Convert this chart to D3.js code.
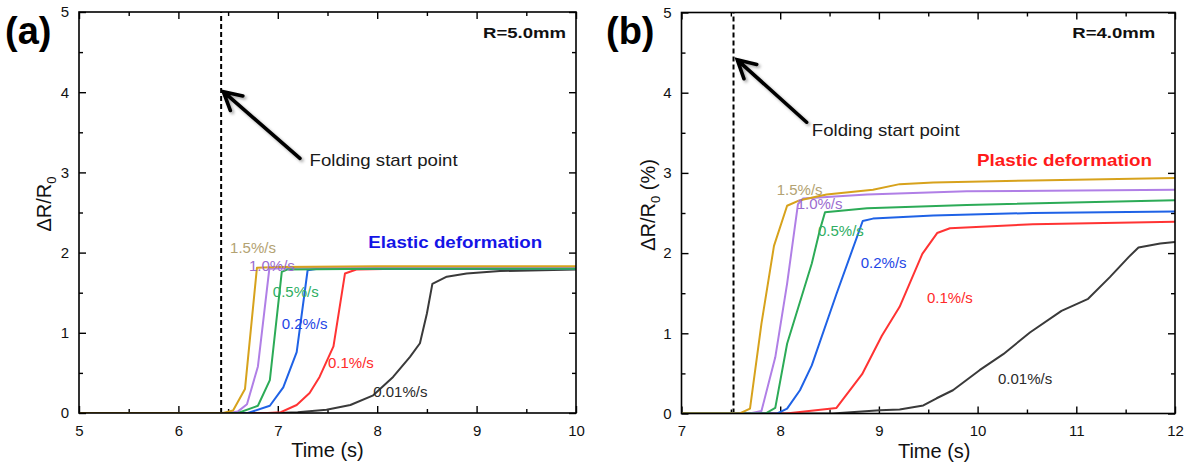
<!DOCTYPE html>
<html>
<head>
<meta charset="utf-8">
<script src="https://cdn.jsdelivr.net/npm/d3@7"></script>
<style>
  html, body { margin: 0; padding: 0; background: #fff; }
  svg { display: block; font-family: Arial, "Liberation Sans", sans-serif; }
</style>
</head>
<body>
<svg id="chart" width="1194" height="470"></svg>
<script>
// Rate labels, one per loading rate
const rateLabels = ["0.01%/s", "0.1%/s", "0.2%/s", "0.5%/s", "1.0%/s", "1.5%/s"];

// Panel (a): R = 5.0 mm, [time (s), ΔR/R0]
const a001 = [[5,0],[7.0,0],[7.2,0.01],[7.49,0.04],[7.73,0.10],[7.96,0.22],[8.16,0.45],[8.33,0.70],[8.43,0.87],[8.50,1.24],[8.555,1.61],[8.70,1.70],[8.90,1.74],[9.235,1.77],[10,1.79]];
const a01  = [[5,0],[6.9,0],[7.03,0.01],[7.19,0.10],[7.32,0.25],[7.42,0.45],[7.56,0.83],[7.676,1.74],[7.79,1.79],[8.2,1.80],[10,1.80]];
const a02  = [[5,0],[6.7,0],[6.92,0.09],[7.055,0.32],[7.19,0.76],[7.30,1.78],[7.4,1.80],[10,1.80]];
const a05  = [[5,0],[6.6,0],[6.8,0.09],[6.92,0.41],[7.04,1.76],[7.1,1.79],[8,1.80],[10,1.80]];
const a10  = [[5,0],[6.5,0],[6.6,0.02],[6.69,0.11],[6.80,0.58],[6.915,1.80],[7.2,1.81],[10,1.81]];
const a15  = [[5,0],[6.45,0],[6.55,0.03],[6.67,0.30],[6.79,1.81],[7,1.82],[8,1.83],[10,1.83]];

// Panel (b): R = 4.0 mm, [time (s), ΔR/R0 (%)]
const b001 = [[7,0],[8.53,0],[9.01,0.04],[9.21,0.05],[9.45,0.10],[9.585,0.19],[9.75,0.29],[10.02,0.54],[10.26,0.74],[10.53,1.01],[10.85,1.28],[11.12,1.43],[11.34,1.70],[11.53,1.95],[11.63,2.07],[11.85,2.12],[12,2.14]];
const b01  = [[7,0],[8.06,0],[8.57,0.07],[8.83,0.49],[9.03,0.97],[9.21,1.33],[9.44,1.99],[9.59,2.25],[9.72,2.31],[10.56,2.36],[12,2.39]];
const b02  = [[7,0],[7.97,0],[8.07,0.06],[8.20,0.29],[8.32,0.60],[8.57,1.49],[8.836,2.40],[8.94,2.43],[9.55,2.47],[10.56,2.50],[12,2.52]];
const b05  = [[7,0],[7.85,0],[7.95,0.07],[8.07,0.87],[8.32,1.87],[8.40,2.28],[8.454,2.51],[8.88,2.56],[9.89,2.60],[12,2.66]];
const b10  = [[7,0],[7.69,0],[7.81,0.03],[7.95,0.70],[8.07,1.62],[8.18,2.61],[8.23,2.68],[8.88,2.73],[9.89,2.77],[12,2.79]];
const b15  = [[7,0],[7.59,0],[7.694,0.06],[7.81,1.12],[7.937,2.09],[8.07,2.59],[8.20,2.66],[8.47,2.73],[8.94,2.79],[9.21,2.86],[9.55,2.88],[10.56,2.905],[12,2.935]];

// Folding start times
const foldStart = [6.43, 7.527];

// Axis ticks
const xTicksA = [5, 6, 7, 8, 9, 10];
const xTicksB = [7, 8, 9, 10, 11, 12];
const yTicks  = [0, 1, 2, 3, 4, 5];

const lineColors  = ["#3a3a3a", "#ff3333", "#1f62e6", "#2cab57", "#b07fe6", "#d7a21c"];
const labelColors = ["#2a2a2a", "#ff2a2a", "#1e46e6", "#2fae63", "#9b6cd0", "#b3a272"];

const svg = d3.select("#chart");
const defs = svg.append("defs");
defs.append("filter").attr("id", "arrowShadow")
  .attr("x", "-20%").attr("y", "-20%").attr("width", "150%").attr("height", "150%")
  .append("feDropShadow")
  .attr("dx", 2).attr("dy", 2).attr("stdDeviation", 1.6)
  .attr("flood-color", "#000").attr("flood-opacity", 0.35);

function drawPanel(cfg) {
  const x = d3.scaleLinear().domain(cfg.xDomain).range([cfg.left, cfg.right]);
  const y = d3.scaleLinear().domain([0, 5]).range([cfg.bottom, cfg.top]);
  const g = svg.append("g");

  const clipId = "clip-" + cfg.id;
  defs.append("clipPath").attr("id", clipId).append("rect")
    .attr("x", cfg.left).attr("y", cfg.top)
    .attr("width", cfg.right - cfg.left).attr("height", cfg.bottom - cfg.top);

  // minor ticks every 0.5
  const xMinor = d3.range(cfg.xDomain[0], cfg.xDomain[1] + 0.01, 0.5).filter(v => v % 1 !== 0);
  const yMinor = d3.range(0.5, 5, 1);

  const styleAxis = sel => {
    sel.select(".domain").remove();
    sel.selectAll(".tick line").attr("stroke", "#000").attr("stroke-width", 1.4);
    sel.selectAll(".tick text").attr("fill", "#111").attr("font-size", 15)
      .attr("font-family", 'Arial, "Liberation Sans", sans-serif');
  };

  // bottom
  g.append("g").attr("transform", `translate(0,${cfg.bottom})`)
    .call(d3.axisBottom(x).tickValues(cfg.xTicks).tickFormat(d3.format("d")).tickSizeInner(-7).tickSizeOuter(0).tickPadding(12))
    .call(styleAxis);
  g.append("g").attr("transform", `translate(0,${cfg.bottom})`)
    .call(d3.axisBottom(x).tickValues(xMinor).tickFormat("").tickSizeInner(-4).tickSizeOuter(0))
    .call(styleAxis);
  // top (mirror)
  g.append("g").attr("transform", `translate(0,${cfg.top})`)
    .call(d3.axisTop(x).tickValues(cfg.xTicks).tickFormat("").tickSizeInner(-7).tickSizeOuter(0))
    .call(styleAxis);
  g.append("g").attr("transform", `translate(0,${cfg.top})`)
    .call(d3.axisTop(x).tickValues(xMinor).tickFormat("").tickSizeInner(-4).tickSizeOuter(0))
    .call(styleAxis);
  // left
  g.append("g").attr("transform", `translate(${cfg.left},0)`)
    .call(d3.axisLeft(y).tickValues(yTicks).tickFormat(d3.format("d")).tickSizeInner(-7).tickSizeOuter(0).tickPadding(10))
    .call(styleAxis);
  g.append("g").attr("transform", `translate(${cfg.left},0)`)
    .call(d3.axisLeft(y).tickValues(yMinor).tickFormat("").tickSizeInner(-4).tickSizeOuter(0))
    .call(styleAxis);
  // right (mirror)
  g.append("g").attr("transform", `translate(${cfg.right},0)`)
    .call(d3.axisRight(y).tickValues(yTicks).tickFormat("").tickSizeInner(-7).tickSizeOuter(0))
    .call(styleAxis);
  g.append("g").attr("transform", `translate(${cfg.right},0)`)
    .call(d3.axisRight(y).tickValues(yMinor).tickFormat("").tickSizeInner(-4).tickSizeOuter(0))
    .call(styleAxis);

  // folding start marker
  g.append("line")
    .attr("x1", x(cfg.fold)).attr("x2", x(cfg.fold))
    .attr("y1", cfg.bottom).attr("y2", cfg.top)
    .attr("stroke", "#000").attr("stroke-width", 2).attr("stroke-dasharray", "5,3");

  // curves (slowest first so the faster ones sit on top)
  const line = d3.line().x(d => x(d[0])).y(d => y(d[1]));
  const curves = g.append("g").attr("clip-path", `url(#${clipId})`);
  const order = [0, 1, 2, 4, 3, 5];
  order.forEach(i => {
    curves.append("path").datum(cfg.series[i]).attr("d", line)
      .attr("fill", "none").attr("stroke", lineColors[i])
      .attr("stroke-width", 2).attr("stroke-linejoin", "round");
  });

  // frame
  g.append("rect")
    .attr("x", cfg.left).attr("y", cfg.top)
    .attr("width", cfg.right - cfg.left).attr("height", cfg.bottom - cfg.top)
    .attr("fill", "none").attr("stroke", "#000").attr("stroke-width", 1.6);

  // rate labels
  cfg.rateAt.forEach((p, i) => {
    g.append("text").attr("x", x(p[0])).attr("y", y(p[1]))
      .attr("fill", labelColors[i]).attr("font-size", 15)
      .text(rateLabels[i]);
  });

  // deformation label
  g.append("text").attr("x", x(cfg.regime.at[0])).attr("y", y(cfg.regime.at[1]))
    .attr("fill", cfg.regime.color).attr("font-size", 17).attr("font-weight", "bold")
    .attr("textLength", cfg.regime.width).attr("lengthAdjust", "spacingAndGlyphs")
    .text(cfg.regime.text);

  // radius label
  g.append("text").attr("x", x(cfg.radius.at[0])).attr("y", y(cfg.radius.at[1]))
    .attr("text-anchor", "end").attr("fill", "#111")
    .attr("font-size", 15).attr("font-weight", "bold")
    .attr("textLength", 83).attr("lengthAdjust", "spacingAndGlyphs")
    .text(cfg.radius.text);

  // arrow pointing at folding start
  const tip = [x(cfg.arrow[0][0]), y(cfg.arrow[0][1])];
  const tail = [x(cfg.arrow[1][0]), y(cfg.arrow[1][1])];
  const ang = Math.atan2(tail[1] - tip[1], tail[0] - tip[0]);
  const headLen = 20, spread = 0.5;
  const b1 = [tip[0] + headLen * Math.cos(ang - spread), tip[1] + headLen * Math.sin(ang - spread)];
  const b2 = [tip[0] + headLen * Math.cos(ang + spread), tip[1] + headLen * Math.sin(ang + spread)];
  g.append("path")
    .attr("d", `M${tail[0]},${tail[1]}L${tip[0] + 1.5 * Math.cos(ang)},${tip[1] + 1.5 * Math.sin(ang)}M${b1[0]},${b1[1]}L${tip[0]},${tip[1]}L${b2[0]},${b2[1]}`)
    .attr("fill", "none").attr("stroke", "#000").attr("stroke-width", 3.6)
    .attr("stroke-linecap", "round").attr("stroke-linejoin", "miter")
    .attr("filter", "url(#arrowShadow)");
  g.append("text").attr("x", x(cfg.foldText[0])).attr("y", y(cfg.foldText[1]))
    .attr("fill", "#1a1a1a").attr("font-size", 17)
    .attr("textLength", 148).attr("lengthAdjust", "spacingAndGlyphs")
    .text("Folding start point");

  // axis titles
  g.append("text")
    .attr("x", (cfg.left + cfg.right) / 2 + cfg.xTitleShift).attr("y", cfg.bottom + 44)
    .attr("text-anchor", "middle").attr("fill", "#111").attr("font-size", 20)
    .text("Time (s)");

  const yt = g.append("text")
    .attr("transform", `translate(${cfg.yTitleX},${cfg.yTitleY}) rotate(-90)`)
    .attr("text-anchor", "middle").attr("fill", "#111").attr("font-size", 20);
  yt.append("tspan").text("ΔR/R");
  yt.append("tspan").attr("font-size", 13).attr("dy", 5).text("0");
  if (cfg.yUnit) yt.append("tspan").attr("dy", -5).text(" " + cfg.yUnit);

  // panel tag
  g.append("text").attr("x", cfg.tagX).attr("y", 44)
    .attr("fill", "#000").attr("font-size", 38).attr("font-weight", "bold")
    .text(cfg.tag);
}

drawPanel({
  id: "a", tag: "(a)", tagX: 5,
  left: 79, right: 576, top: 12, bottom: 413,
  xDomain: [5, 10], xTicks: xTicksA,
  series: [a001, a01, a02, a05, a10, a15],
  fold: foldStart[0],
  rateAt: [[7.96, 0.20], [7.505, 0.56], [7.04, 1.05], [6.95, 1.45], [6.71, 1.775], [6.52, 1.99]],
  regime: { text: "Elastic deformation", at: [7.91, 2.06], color: "#1414e6", width: 174 },
  radius: { text: "R=5.0mm", at: [9.90, 4.68] },
  arrow: [[6.452, 4.006], [7.223, 3.176]],
  foldText: [7.32, 3.08],
  xTitleShift: 0, yTitleX: 51, yTitleY: 204, yUnit: null
});

drawPanel({
  id: "b", tag: "(b)", tagX: 606,
  left: 681.5, right: 1175, top: 12.5, bottom: 413.5,
  xDomain: [7, 12], xTicks: xTicksB,
  series: [b001, b01, b02, b05, b10, b15],
  fold: foldStart[1],
  rateAt: [[10.207, 0.374], [9.487, 1.384], [8.816, 1.82], [8.383, 2.207], [8.167, 2.55], [7.965, 2.73]],
  regime: { text: "Plastic deformation", at: [9.994, 3.08], color: "#ff1a1a", width: 175 },
  radius: { text: "R=4.0mm", at: [11.80, 4.68] },
  arrow: [[7.565, 4.41], [8.268, 3.632]],
  foldText: [8.32, 3.466],
  xTitleShift: 6, yTitleX: 655, yTitleY: 205, yUnit: "(%)"
});
</script>
</body>
</html>
